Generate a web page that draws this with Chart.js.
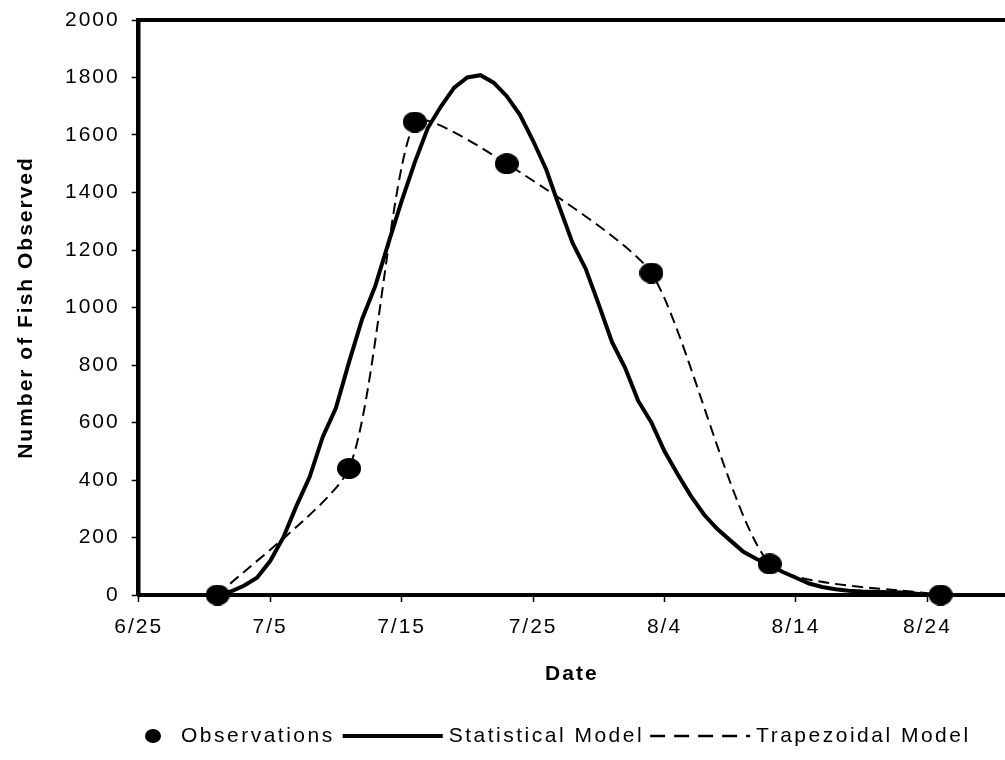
<!DOCTYPE html>
<html>
<head>
<meta charset="utf-8">
<title>Number of Fish Observed</title>
<script src="https://cdn.jsdelivr.net/npm/chart.js@4.4.1/dist/chart.umd.min.js"></script>
<style>
  html, body { margin: 0; padding: 0; background: #fff; overflow: hidden; }
  #wrap { width: 1005px; height: 760px; }
</style>
</head>
<body>
<div id="wrap"><canvas id="fishChart" width="1005" height="760"></canvas></div>
<script>
// observations (date, fish counted)
const obsDates = ['7/1', '7/11', '7/16', '7/23', '8/3', '8/12', '8/25'];
const obsCounts = [0, 440, 1645, 1500, 1120, 108, 0];

// trapezoidal model runs through the same points
const trapDates = ['7/1', '7/11', '7/16', '7/23', '8/3', '8/12', '8/25'];
const trapCounts = [0, 440, 1645, 1500, 1120, 108, 0];

// statistical model, one value per day starting 7/1
const modelStart = '7/1';
const modelCounts = [
    0, 12, 32, 60, 118, 200, 310, 410, 550, 650,
    810, 960, 1075, 1225, 1370, 1505, 1625, 1700, 1765, 1800,
    1808, 1782, 1735, 1670, 1580, 1480, 1350, 1225, 1135, 1010,
    880, 790, 675, 600, 500, 420, 345, 280, 230, 190,
    150, 125, 105, 80, 60, 40, 28, 20, 15, 12,
    11, 10, 9, 5, 0
];

const seriesNames = ['Observations', 'Statistical Model', 'Trapezoidal Model'];
const xTickLabels = ['6/25', '7/5', '7/15', '7/25', '8/4', '8/14', '8/24'];
const yTickValues = [0, 200, 400, 600, 800, 1000, 1200, 1400, 1600, 1800, 2000];

const FONT = '"Liberation Sans", Arial, sans-serif';

// days counted from 6/25
function dayOf(s) {
    const [m, d] = s.split('/').map(Number);
    if (m === 6) return d - 25;
    if (m === 7) return d + 5;
    return d + 36;
}
function labelOf(day) {
    if (day <= 5) return '6/' + (day + 25);
    if (day <= 36) return '7/' + (day - 5);
    return '8/' + (day - 36);
}

function ellipseMarker(w, h) {
    const c = document.createElement('canvas');
    c.width = w; c.height = h;
    const g = c.getContext('2d');
    g.fillStyle = '#000';
    g.beginPath();
    g.ellipse(w / 2, h / 2, w / 2, h / 2, 0, 0, Math.PI * 2);
    g.fill();
    return c;
}

const obsPoints = obsDates.map((d, i) => ({ x: dayOf(d), y: obsCounts[i] }));
const trapPoints = trapDates.map((d, i) => ({ x: dayOf(d), y: trapCounts[i] }));
const modelPoints = modelCounts.map((v, i) => ({ x: dayOf(modelStart) + i, y: v }));

// Excel style text is a bit wider than plain Arial
const wideText = {
    id: 'wideText',
    beforeUpdate(chart) { chart.ctx.letterSpacing = '2px'; },
    beforeDraw(chart) { chart.ctx.letterSpacing = '2px'; }
};

// legend row under the chart: marker, solid sample, dashed sample
const keyLegend = {
    id: 'keyLegend',
    afterDraw(chart) {
        const ctx = chart.ctx;
        const ds = chart.data.datasets;
        const y = 736;
        ctx.save();
        ctx.font = '21px ' + FONT;
        ctx.letterSpacing = '2.5px';
        ctx.textBaseline = 'middle';
        ctx.fillStyle = '#000';
        let x = 145;

        ctx.beginPath();
        ctx.ellipse(x + 8, y, 8, 7, 0, 0, Math.PI * 2);
        ctx.fill();
        x += 36;
        ctx.fillText(ds[0].label, x, y);
        x += ctx.measureText(ds[0].label).width + 8;

        ctx.strokeStyle = '#000';
        ctx.lineWidth = ds[1].borderWidth;
        ctx.setLineDash([]);
        ctx.beginPath();
        ctx.moveTo(x, y); ctx.lineTo(x + 100, y);
        ctx.stroke();
        x += 106;
        ctx.fillText(ds[1].label, x, y);
        x += ctx.measureText(ds[1].label).width + 6;

        ctx.lineWidth = 2.5;
        ctx.setLineDash([15, 9]);
        ctx.beginPath();
        ctx.moveTo(x, y); ctx.lineTo(x + 100, y);
        ctx.stroke();
        x += 106;
        ctx.fillText(ds[2].label, x, y);
        ctx.restore();
    }
};

Chart.defaults.font.family = FONT;
Chart.defaults.color = '#000';

const ctx = document.getElementById('fishChart').getContext('2d');
const fishChart = new Chart(ctx, {
    type: 'line',
    data: {
        datasets: [{
            label: seriesNames[0],
            data: obsPoints,
            showLine: false,
            pointStyle: ellipseMarker(24, 21),
            pointRadius: 11,
            backgroundColor: '#000',
            borderColor: '#000',
            clip: false,
            order: 0
        }, {
            label: seriesNames[1],
            data: modelPoints,
            borderColor: '#000',
            borderWidth: 4,
            pointRadius: 0,
            tension: 0,
            fill: false,
            clip: false,
            order: 2
        }, {
            label: seriesNames[2],
            data: trapPoints,
            borderColor: '#000',
            borderWidth: 2,
            borderDash: [11, 6],
            pointRadius: 0,
            tension: 0.2,
            fill: false,
            clip: false,
            order: 1
        }]
    },
    options: {
        responsive: false,
        devicePixelRatio: 1,
        animation: false,
        layout: { autoPadding: false, padding: { left: 0, right: 0, top: 20, bottom: 50 } },
        plugins: {
            legend: { display: false },
            tooltip: { enabled: false }
        },
        scales: {
            x: {
                type: 'linear',
                position: 'bottom',
                min: 0,
                max: 65.9,
                afterBuildTicks: s => { s.ticks = xTickLabels.map(l => ({ value: dayOf(l) })); },
                ticks: {
                    callback: v => labelOf(v),
                    font: { size: 21 },
                    padding: 13,
                    maxRotation: 0,
                    autoSkip: false
                },
                grid: { drawOnChartArea: false, tickLength: 7, tickWidth: 1.5, tickColor: '#000' },
                border: { display: true, color: '#000', width: 4 },
                title: {
                    display: true,
                    text: 'Date',
                    font: { size: 21, weight: 'bold' },
                    padding: { top: 0, bottom: 23 }
                },
                afterFit: s => { s.height = 115; }
            },
            xTop: {
                type: 'linear',
                position: 'top',
                min: 0,
                max: 65.9,
                ticks: { display: false },
                grid: { drawOnChartArea: false, drawTicks: false },
                border: { display: true, color: '#000', width: 4 }
            },
            y: {
                min: 0,
                max: 2000,
                afterBuildTicks: s => { s.ticks = yTickValues.map(v => ({ value: v })); },
                ticks: {
                    callback: v => String(v),
                    font: { size: 21 },
                    padding: 12
                },
                grid: { drawOnChartArea: false, tickLength: 7, tickWidth: 1.5, tickColor: '#000' },
                border: { display: true, color: '#000', width: 4.5 },
                title: {
                    display: true,
                    text: 'Number of Fish Observed',
                    font: { size: 21, weight: 'bold' },
                    padding: { top: 14, bottom: 0 }
                },
                afterFit: s => {
                    s.width = 138.7;
                    s.paddingTop = 0;
                    s.paddingBottom = 0;
                }
            }
        }
    },
    plugins: [wideText, keyLegend]
});
</script>
</body>
</html>
